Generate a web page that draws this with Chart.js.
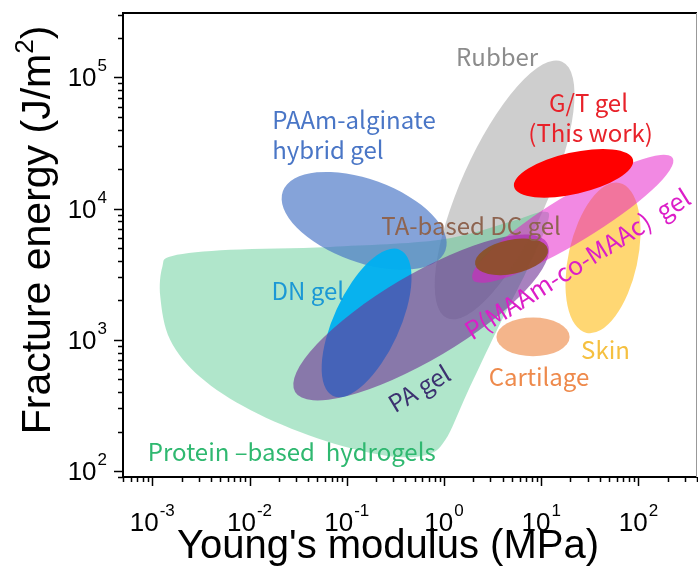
<!DOCTYPE html>
<html>
<head>
<meta charset="utf-8">
<script src="https://cdn.jsdelivr.net/npm/chart.js@4.4.1/dist/chart.umd.min.js"></script>
<style>
  html, body { margin: 0; padding: 0; background: #fff; }
</style>
</head>
<body>
<canvas id="myChart" width="698" height="568"></canvas>
<script>
// Fracture energy (J/m2) vs Young's modulus (MPa) for tough soft materials.
// Each material range is an ellipse: its centre, the end of its long axis, and width ratio.
const materials = ['Rubber', 'PAAm-alginate', 'DN gel', 'PA gel', 'Skin', 'P(MAAm-co-MAAc)', 'TA-based DC gel', 'G/T gel', 'Cartilage'];
const modulusCentre = [4.2, 0.151, 0.160, 0.582, 43.2, 21.1, 4.95, 21.5, 8.24];
const energyCentre = [13900, 8070, 1345, 1482, 4210, 8360, 4290, 18600, 1052];
const modulusTip = [16.4, 1.035, 0.354, 11.5, 63.8, 225, 11.7, 87.9, 19.6];
const energyTip = [132000, 4800, 4845, 5480, 15700, 24300, 4910, 23600, 1052];
const widthRatio = [0.31, 0.48, 0.41, 0.29, 0.45, 0.2, 0.46, 0.34, 0.53];

// outline of the protein-based hydrogel region
const proteinModulus = [0.00161, 0.00634, 0.0676, 0.912, 4.78, 10.4, 11.7, 7.15, 3.51, 1.73, 1.03, 0.640, 0.237, 0.0497, 0.0102, 0.00311, 0.00153, 0.00121, 0.00127];
const proteinEnergy = [4360, 4850, 5110, 5780, 7930, 9450, 7930, 3410, 1190, 394, 172, 132, 132, 178, 292, 521, 998, 2120, 3600];

const xTickPowers = [-3, -2, -1, 0, 1, 2];
const yTickPowers = [2, 3, 4, 5];

const fills = {
  'Rubber': 'rgba(180,180,180,0.65)',
  'PAAm-alginate': 'rgba(68,114,196,0.65)',
  'DN gel': 'rgba(0,176,240,0.95)',
  'PA gel': 'rgba(110,47,148,0.6)',
  'Skin': 'rgba(255,205,80,0.8)',
  'P(MAAm-co-MAAc)': 'rgba(230,20,200,0.5)',
  'TA-based DC gel': 'rgba(140,80,35,0.9)',
  'G/T gel': 'rgb(255,0,0)',
  'Cartilage': 'rgba(240,150,90,0.7)'
};
const proteinFill = 'rgba(80,200,140,0.45)';

// text annotations, anchored in data coordinates
const notes = [
  { text: 'Rubber', x: 3.52, y: 144000, color: '#8c8c8c' },
  { text: 'G/T gel', x: 30.6, y: 64100, color: '#e8222a' },
  { text: '(This work)', x: 32.2, y: 37800, color: '#e8222a' },
  { text: 'PAAm-alginate', x: 0.0171, y: 47500, color: '#4a76c6', align: 'left' },
  { text: 'hybrid gel', x: 0.0171, y: 28100, color: '#4a76c6', align: 'left' },
  { text: 'TA-based DC gel', x: 1.9, y: 7390, color: '#8e6450' },
  { text: 'DN gel', x: 0.0398, y: 2370, color: '#1b98d5' },
  { text: 'P(MAAm-co-MAAc)  gel', x: 23.5, y: 3800, color: '#dc1ec8', rotate: -32, size: 25 },
  { text: 'Skin', x: 45.8, y: 837, color: '#f5c040' },
  { text: 'Cartilage', x: 9.5, y: 524, color: '#ee8a4c' },
  { text: 'PA gel', x: 0.555, y: 426, color: '#3c3270', rotate: -31 },
  { text: 'Protein –based  hydrogels', x: 0.0272, y: 140, color: '#2fb870' }
];

const labelFont = '"Noto Sans CJK SC", "Noto Sans", sans-serif';
const axisFont = '"Liberation Sans", Arial, sans-serif';

function smoothClosedPath(ctx, pts) {
  const n = pts.length;
  ctx.moveTo(pts[0][0], pts[0][1]);
  for (let i = 0; i < n; i++) {
    const p0 = pts[(i - 1 + n) % n], p1 = pts[i], p2 = pts[(i + 1) % n], p3 = pts[(i + 2) % n];
    const c1x = p1[0] + (p2[0] - p0[0]) / 6, c1y = p1[1] + (p2[1] - p0[1]) / 6;
    const c2x = p2[0] - (p3[0] - p1[0]) / 6, c2y = p2[1] - (p3[1] - p1[1]) / 6;
    ctx.bezierCurveTo(c1x, c1y, c2x, c2y, p2[0], p2[1]);
  }
  ctx.closePath();
}

function drawEllipse(ctx, x, y, i) {
  const cx = x.getPixelForValue(modulusCentre[i]), cy = y.getPixelForValue(energyCentre[i]);
  const tx = x.getPixelForValue(modulusTip[i]), ty = y.getPixelForValue(energyTip[i]);
  const a = Math.hypot(tx - cx, ty - cy);
  ctx.beginPath();
  ctx.ellipse(cx, cy, a, a * widthRatio[i], Math.atan2(ty - cy, tx - cx), 0, Math.PI * 2);
  ctx.fillStyle = fills[materials[i]];
  ctx.fill();
}

const regions = {
  id: 'regions',
  beforeDatasetsDraw(chart) {
    const { ctx, chartArea: area, scales: { x, y } } = chart;
    ctx.save();
    ctx.beginPath();
    ctx.rect(area.left, area.top, area.width, area.height);
    ctx.clip();

    drawEllipse(ctx, x, y, materials.indexOf('Rubber'));

    const pts = proteinModulus.map((m, i) => [x.getPixelForValue(m), y.getPixelForValue(proteinEnergy[i])]);
    ctx.beginPath();
    smoothClosedPath(ctx, pts);
    ctx.fillStyle = proteinFill;
    ctx.fill();

    ['PAAm-alginate', 'DN gel', 'PA gel', 'Skin', 'P(MAAm-co-MAAc)', 'TA-based DC gel', 'G/T gel', 'Cartilage']
      .forEach(name => drawEllipse(ctx, x, y, materials.indexOf(name)));
    ctx.restore();

    ctx.save();
    ctx.textBaseline = 'middle';
    notes.forEach(n => {
      ctx.save();
      ctx.font = (n.size || 24) + 'px ' + labelFont;
      ctx.translate(x.getPixelForValue(n.x), y.getPixelForValue(n.y));
      if (n.rotate) ctx.rotate(n.rotate * Math.PI / 180);
      ctx.textAlign = n.align || 'center';
      ctx.fillStyle = n.color;
      ctx.fillText(n.text, 0, 0);
      ctx.restore();
    });
    ctx.restore();
  }
};

// draws "10" with a raised exponent; (px, baseline) is the anchor
function drawPower(ctx, exp, px, base, align) {
  ctx.font = '26px ' + axisFont;
  const w1 = ctx.measureText('10').width;
  ctx.font = '17px ' + axisFont;
  const w2 = ctx.measureText(exp).width;
  const total = w1 + w2 + 1;
  let left = align === 'right' ? px - total : px - total / 2;
  ctx.textAlign = 'left';
  ctx.textBaseline = 'alphabetic';
  ctx.font = '26px ' + axisFont;
  ctx.fillText('10', left, base);
  ctx.font = '17px ' + axisFont;
  ctx.fillText(exp, left + w1 + 1, base - 15);
}

const axes = {
  id: 'axes',
  afterDraw(chart) {
    const { ctx, chartArea: area, scales: { x, y } } = chart;
    ctx.save();
    ctx.strokeStyle = '#000';
    ctx.fillStyle = '#000';

    // tick marks, outward
    ctx.lineWidth = 1.5;
    for (let p = -4; p <= 2; p++) {
      for (let m = 1; m <= 9; m++) {
        const v = m * Math.pow(10, p);
        if (v < x.min || v > x.max) continue;
        const px = Math.round(x.getPixelForValue(v)) + 0.5;
        ctx.beginPath();
        ctx.moveTo(px, area.bottom);
        ctx.lineTo(px, area.bottom + (m === 1 ? 9 : 5));
        ctx.stroke();
      }
    }
    for (let p = 1; p <= 5; p++) {
      for (let m = 1; m <= 9; m++) {
        const v = m * Math.pow(10, p);
        if (v < y.min || v > y.max * 0.97) continue;
        const py = Math.round(y.getPixelForValue(v)) + 0.5;
        ctx.beginPath();
        ctx.moveTo(area.left, py);
        ctx.lineTo(area.left - (m === 1 ? 9 : 5), py);
        ctx.stroke();
      }
    }

    // frame
    ctx.lineWidth = 2;
    ctx.beginPath();
    ctx.moveTo(area.right, area.top);
    ctx.lineTo(area.left, area.top);
    ctx.lineTo(area.left, area.bottom);
    ctx.lineTo(area.right, area.bottom);
    ctx.stroke();
    ctx.lineWidth = 1;
    ctx.strokeStyle = '#999';
    ctx.beginPath();
    ctx.moveTo(area.right - 0.5, area.top);
    ctx.lineTo(area.right - 0.5, area.bottom);
    ctx.stroke();

    // tick labels
    xTickPowers.forEach(p => drawPower(ctx, String(p), x.getPixelForValue(Math.pow(10, p)), 531, 'center'));
    yTickPowers.forEach(p => drawPower(ctx, String(p), area.left - 16, y.getPixelForValue(Math.pow(10, p)) + 9, 'right'));

    // axis titles
    ctx.font = '40px ' + axisFont;
    ctx.textAlign = 'center';
    ctx.textBaseline = 'alphabetic';
    ctx.fillText("Young's modulus (MPa)", 388, 558);

    ctx.translate(50, 230);
    ctx.rotate(-Math.PI / 2);
    const t1 = 'Fracture energy (J/m', t2 = '2', t3 = ')';
    ctx.font = '41px ' + axisFont;
    const w1 = ctx.measureText(t1).width, w3 = ctx.measureText(t3).width;
    ctx.font = '26px ' + axisFont;
    const w2 = ctx.measureText(t2).width;
    let left = -(w1 + w2 + w3) / 2;
    ctx.textAlign = 'left';
    ctx.font = '41px ' + axisFont;
    ctx.fillText(t1, left, 0);
    ctx.font = '26px ' + axisFont;
    ctx.fillText(t2, left + w1, -17);
    ctx.font = '41px ' + axisFont;
    ctx.fillText(t3, left + w1 + w2, 0);
    ctx.restore();
  }
};

const ctx = document.getElementById('myChart');

new Chart(ctx, {
  type: 'scatter',
  data: {
    datasets: [{
      label: 'centres',
      data: modulusCentre.map((m, i) => ({ x: m, y: energyCentre[i] })),
      pointRadius: 0
    }]
  },
  options: {
    responsive: false,
    animation: false,
    layout: { padding: { left: 123, top: 13, right: 1, bottom: 91 } },
    plugins: { legend: { display: false }, tooltip: { enabled: false } },
    scales: {
      x: { type: 'logarithmic', min: 5e-4, max: 400, display: false },
      y: { type: 'logarithmic', min: 90, max: 3.1e5, display: false }
    }
  },
  plugins: [regions, axes]
});
</script>
</body>
</html>
